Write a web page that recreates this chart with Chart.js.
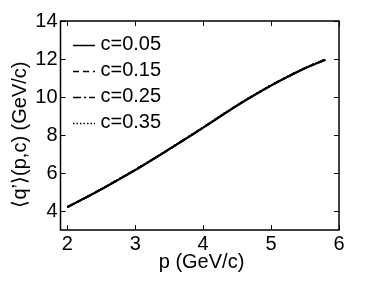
<!DOCTYPE html>
<html>
<head>
<meta charset="utf-8">
<script src="https://cdn.jsdelivr.net/npm/chart.js@4.4.1/dist/chart.umd.min.js"></script>
<style>
html,body{margin:0;padding:0;background:#fff;}
#wrap{width:374px;height:281px;position:relative;}
</style>
</head>
<body>
<div id="wrap"><canvas id="c" width="374" height="281"></canvas></div>
<script>
const pValues = [2, 2.25, 2.5, 2.75, 3, 3.25, 3.5, 3.75, 4, 4.25, 4.5, 4.75, 5, 5.25, 5.5, 5.8];
const q005 = [4.20, 4.66, 5.14, 5.64, 6.15, 6.69, 7.25, 7.81, 8.38, 8.97, 9.55, 10.09, 10.60, 11.07, 11.51, 11.96];
const q015 = [4.20, 4.66, 5.14, 5.65, 6.16, 6.70, 7.25, 7.82, 8.39, 8.98, 9.56, 10.10, 10.61, 11.08, 11.52, 11.97];
const q025 = [4.21, 4.67, 5.15, 5.65, 6.16, 6.70, 7.26, 7.82, 8.39, 8.98, 9.56, 10.10, 10.61, 11.08, 11.52, 11.97];
const q035 = [4.21, 4.67, 5.15, 5.66, 6.17, 6.71, 7.26, 7.83, 8.40, 8.99, 9.57, 10.11, 10.62, 11.09, 11.53, 11.98];
const seriesLabels = ['c=0.05', 'c=0.15', 'c=0.25', 'c=0.35'];
const xTicks = [2, 3, 4, 5, 6];
const yTicks = [4, 6, 8, 10, 12, 14];
const xTitle = 'p (GeV/c)';
const yTitle = '\u27E8q\u2019\u27E9(p,c) (GeV/c)';

const FONT = '"Liberation Sans", Arial, Helvetica, sans-serif';
const FS = 20;
const dashes = [[], [6, 4], [8, 3, 2, 3], [1.5, 2]];
const series = [q005, q015, q025, q035];

const datasets = series.map((arr, i) => ({
  label: seriesLabels[i],
  data: pValues.map((p, j) => ({x: p, y: arr[j]})),
  borderColor: '#000',
  borderWidth: 2,
  borderDash: dashes[i],
  pointRadius: 0,
  fill: false,
  cubicInterpolationMode: 'monotone'
}));

const framePlugin = {
  id: 'frame',
  afterDraw(chart) {
    const ctx = chart.ctx;
    const a = chart.chartArea;
    const xs = chart.scales.x, ys = chart.scales.y;
    ctx.save();
    ctx.strokeStyle = '#000';
    ctx.lineWidth = 1.5;
    ctx.setLineDash([]);
    ctx.strokeRect(a.left, a.top, a.right - a.left, a.bottom - a.top);
    const tl = 5;
    ctx.lineWidth = 1;
    ctx.beginPath();
    xTicks.forEach(v => {
      const px = Math.round(xs.getPixelForValue(v)) + 0.5;
      ctx.moveTo(px, a.bottom); ctx.lineTo(px, a.bottom - tl);
      ctx.moveTo(px, a.top); ctx.lineTo(px, a.top + tl);
    });
    yTicks.forEach(v => {
      const py = Math.round(ys.getPixelForValue(v)) + 0.5;
      ctx.moveTo(a.left, py); ctx.lineTo(a.left + tl, py);
      ctx.moveTo(a.right, py); ctx.lineTo(a.right - tl, py);
    });
    ctx.stroke();

    ctx.fillStyle = '#000';
    ctx.font = FS + 'px ' + FONT;
    ctx.textAlign = 'center';
    ctx.textBaseline = 'middle';
    ctx.fillText(xTitle, 201.5, 262);
    ctx.translate(20, 134.5);
    ctx.rotate(-Math.PI / 2);
    ctx.fillText(yTitle, 0, 0);
    ctx.restore();

    ctx.save();
    ctx.font = FS + 'px ' + FONT;
    ctx.textAlign = 'left';
    ctx.textBaseline = 'middle';
    ctx.fillStyle = '#000';
    chart.data.datasets.forEach((ds, i) => {
      const y = 44.5 + i * 26;
      ctx.strokeStyle = '#000';
      ctx.lineWidth = 1.5;
      ctx.setLineDash(ds.borderDash || []);
      ctx.beginPath();
      ctx.moveTo(73, Math.round(y) + 0.5);
      ctx.lineTo(95, Math.round(y) + 0.5);
      ctx.stroke();
      ctx.setLineDash([]);
      ctx.fillText(ds.label, 100.5, y);
    });
    ctx.restore();
  }
};

new Chart(document.getElementById('c'), {
  type: 'line',
  data: { datasets },
  options: {
    responsive: false,
    animation: false,
    devicePixelRatio: 1,
    layout: { padding: { left: 0, right: 35, top: 21, bottom: 0 } },
    plugins: { legend: { display: false }, tooltip: { enabled: false } },
    scales: {
      x: {
        type: 'linear',
        min: 1.9, max: 6,
        afterBuildTicks: s => { s.ticks = xTicks.map(v => ({value: v})); },
        afterFit: s => { s.height = 51; },
        grid: { display: false, drawTicks: false },
        border: { display: false },
        ticks: { color: '#000', font: { family: FONT, size: FS }, padding: 2, maxRotation: 0, autoSkip: false }
      },
      y: {
        type: 'linear',
        min: 3, max: 14,
        afterBuildTicks: s => { s.ticks = yTicks.map(v => ({value: v})); },
        afterFit: s => { s.width = 60.5; },
        grid: { display: false, drawTicks: false },
        border: { display: false },
        ticks: { color: '#000', font: { family: FONT, size: FS }, padding: 3, autoSkip: false }
      }
    }
  },
  plugins: [framePlugin]
});
</script>
</body>
</html>
